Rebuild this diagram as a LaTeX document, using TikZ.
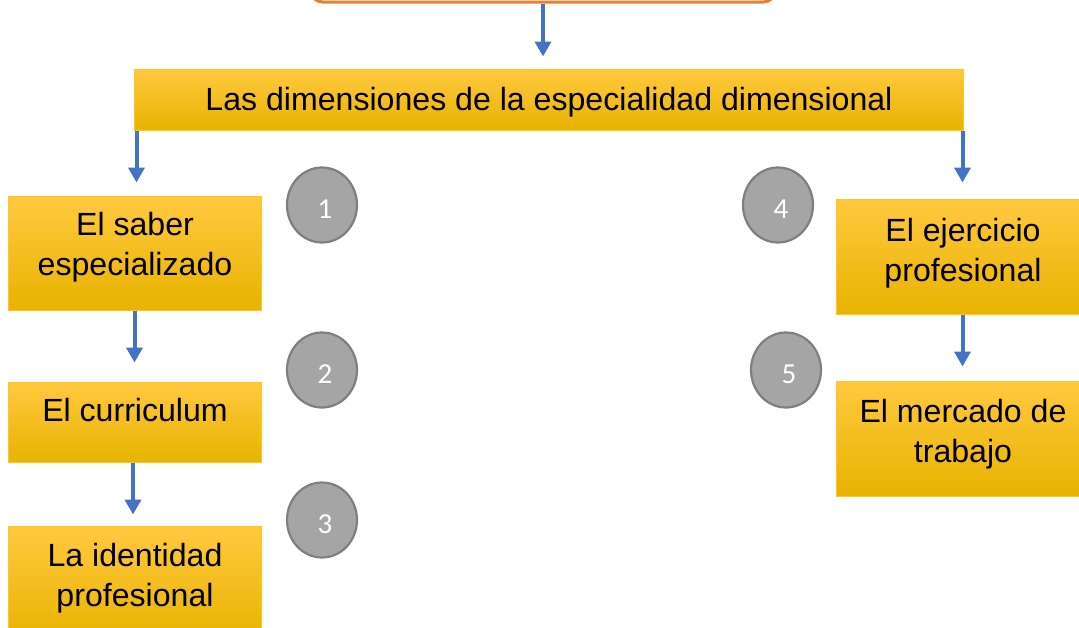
\documentclass[tikz,border=0pt]{standalone}
\usepackage{fontspec}
\setmainfont{Liberation Sans}
\newfontfamily\numfont{Carlito}
\usetikzlibrary{arrows.meta,shapes.geometric}
\definecolor{goldtop}{HTML}{FFC93F}
\definecolor{goldmid}{HTML}{FFC000}
\definecolor{goldbot}{HTML}{E8B300}
\definecolor{goldline}{HTML}{FFC520}
\definecolor{arrowblue}{HTML}{4472C4}
\definecolor{orangeline}{HTML}{ED7D31}
\definecolor{circfill}{HTML}{A5A5A5}
\definecolor{circline}{HTML}{7F7F7F}
\begin{document}
\begin{tikzpicture}[x=1pt,y=-1pt,
  box/.style={draw=goldline,line width=1pt,shading=axis,top color=goldtop,middle color=goldmid,bottom color=goldbot,
    minimum width=253pt,inner sep=0pt},
  txt/.style={font=\fontsize{32.1}{39.5}\selectfont,align=center,text=black,inner sep=0pt},
  num/.style={ellipse,draw=circline,line width=2.2pt,fill=circfill,minimum width=70pt,minimum height=75pt,inner sep=0pt},
  numtxt/.style={font=\numfont\fontsize{29}{32}\selectfont,text=white,inner sep=0pt},
  arr/.style={draw=arrowblue,line width=4pt,-{Triangle[width=16pt,length=15pt]}}]
\useasboundingbox (0,0) rectangle (1079,627);
\clip (0,0) rectangle (1079,627);

% top box (only its bottom edge is visible)
\node[draw=orangeline,line width=3pt,fill=white,rounded corners=12pt,minimum width=465pt,minimum height=80pt,inner sep=0pt] (top) at (543,-38) {};

% main box
\node[box,minimum width=829pt,minimum height=61pt] (main) at (548.5,99.5) {};
\node[txt] (tmain) at (549,102) {Las dimensiones de la especialidad dimensional};

% left column
\node[box,minimum height=114pt] (b1) at (134.5,253) {};
\node[txt] (t1) at (135,247) {El saber\\especializado};
\node[box,minimum height=80pt] (b2) at (134.5,422) {};
\node[txt] (t2) at (135,410.5) {El curriculum};
\node[box,minimum height=114pt] (b3) at (134.5,583) {};
\node[txt] (t3) at (135,578) {La identidad\\profesional};

% right column
\node[box,minimum height=115pt] (b4) at (962.5,256.5) {};
\node[txt] (t4) at (963,253) {El ejercicio\\profesional};
\node[box,minimum height=115pt] (b5) at (962.5,438.5) {};
\node[txt] (t5) at (963,434) {El mercado de\\trabajo};

% numbered circles
\node[num] (c1) at (322,205) {};
\node[numtxt] (n1) at (325,209) {1};
\node[num] (c2) at (322,370) {};
\node[numtxt] (n2) at (325,374) {2};
\node[num] (c3) at (322,520) {};
\node[numtxt] (n3) at (325,524) {3};
\node[num] (c4) at (778,205) {};
\node[numtxt] (n4) at (781,209) {4};
\node[num] (c5) at (786,370) {};
\node[numtxt] (n5) at (789,374) {5};

% connectors
\draw[arr,shorten >=12pt] (top.south) -- (top.south |- main.north);
\draw[arr,shorten >=13pt] ([xshift=3pt]main.south west) -- ([xshift=3pt]main.south west |- b1.north);
\draw[arr,shorten >=16pt] ([xshift=-1pt]main.south east) -- ([xshift=-1pt]main.south east |- b4.north);
\draw[arr,shorten >=19pt] (b1.south) -- (b2.north);
\draw[arr,shorten >=11pt] ([xshift=-1.5pt]b2.south) -- ([xshift=-1.5pt]b3.north);
\draw[arr,shorten >=14pt] (b4.south) -- (b5.north);
\end{tikzpicture}
\end{document}
